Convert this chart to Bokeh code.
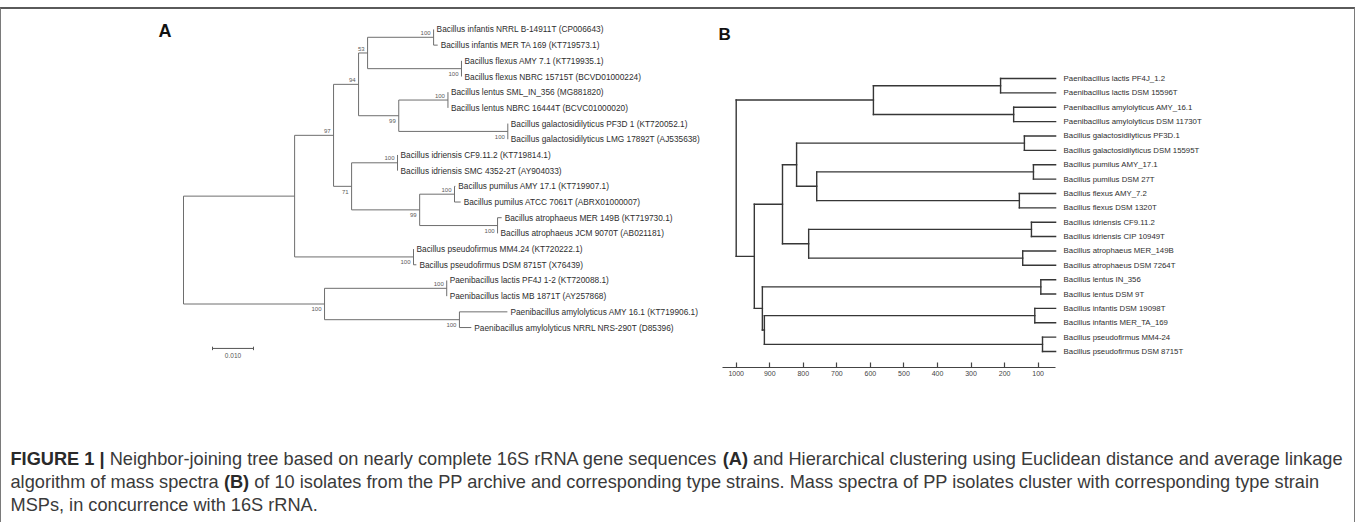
from bokeh.plotting import figure
from bokeh.models import Range1d, LinearAxis, FixedTicker
from bokeh.layouts import column, row
from bokeh.embed import file_html
from bokeh.resources import INLINE
from bokeh.core.properties import value

FONT = "Liberation Sans"

# ---------------- Panel A : neighbour-joining tree (16S rRNA) ----------------
A_LEAVES = [
    "Bacillus infantis NRRL B-14911T (CP006643)",
    "Bacillus infantis MER TA 169 (KT719573.1)",
    "Bacillus flexus AMY 7.1 (KT719935.1)",
    "Bacillus flexus NBRC 15715T (BCVD01000224)",
    "Bacillus lentus SML_IN_356 (MG881820)",
    "Bacillus lentus NBRC 16444T (BCVC01000020)",
    "Bacillus galactosidilyticus PF3D 1 (KT720052.1)",
    "Bacillus galactosidilyticus LMG 17892T (AJ535638)",
    "Bacillus idriensis CF9.11.2 (KT719814.1)",
    "Bacillus idriensis SMC 4352-2T (AY904033)",
    "Bacillus pumilus AMY 17.1 (KT719907.1)",
    "Bacillus pumilus ATCC 7061T (ABRX01000007)",
    "Bacillus atrophaeus MER 149B (KT719730.1)",
    "Bacillus atrophaeus JCM 9070T (AB021181)",
    "Bacillus pseudofirmus MM4.24 (KT720222.1)",
    "Bacillus pseudofirmus DSM 8715T (X76439)",
    "Paenibacillus lactis PF4J 1-2 (KT720088.1)",
    "Paenibacillus lactis MB 1871T (AY257868)",
    "Paenibacillus amylolyticus AMY 16.1 (KT719906.1)",
    "Paenibacillus amylolyticus NRRL NRS-290T (D85396)",
]
A_LEAF_LENGTH = [0.0, 0.0010, 0.0, 0.0, 0.0, 0.0, 0.0, 0.0, 0.0, 0.0,
                 0.0002, 0.0015, 0.0010, 0.0, 0.0, 0.0007, 0.0, 0.0, 0.0117, 0.0029]
A_NODE_NAMES = ["root", "bac", "n97", "n94", "n53", "inf", "fle", "n99a", "len", "gal",
                "n71", "idr", "n99b", "pum", "atr", "pse", "pae", "lac", "amy"]
A_NODE_CHILDREN = [["bac", "pae"], ["n97", "pse"], ["n94", "n71"], ["n53", "n99a"],
                   ["inf", "fle"], [0, 1], [2, 3], ["len", "gal"], [4, 5], [6, 7],
                   ["idr", "n99b"], [8, 9], ["pum", "atr"], [10, 11], [12, 13], [14, 15],
                   ["lac", "amy"], [16, 17], [18, 19]]
A_NODE_LENGTH = [0.0, 0.0271, 0.0095, 0.0061, 0.0022, 0.0161, 0.0229, 0.0098, 0.0120, 0.0266,
                 0.0044, 0.0112, 0.0166, 0.0085, 0.0190, 0.0290, 0.0344, 0.0298, 0.0329]
A_BOOTSTRAP = [None, None, 97, 94, 53, 100, 100, 99, 100, 100,
               71, 100, 99, 100, 100, 100, 100, 100, 100]
A_SCALE_BAR = 0.010

# ---------------- Panel B : hierarchical clustering of mass spectra ----------------
B_LEAVES = [
    "Paenibacillus lactis PF4J_1.2",
    "Paenibacillus lactis DSM 15596T",
    "Paenibacillus amylolyticus AMY_16.1",
    "Paenibacillus amylolyticus DSM 11730T",
    "Bacillus galactosidilyticus PF3D.1",
    "Bacillus galactosidilyticus DSM 15595T",
    "Bacillus pumilus AMY_17.1",
    "Bacillus pumilus DSM 27T",
    "Bacillus flexus AMY_7.2",
    "Bacillus flexus DSM 1320T",
    "Bacillus idriensis CF9.11.2",
    "Bacillus idriensis CIP 10949T",
    "Bacillus atrophaeus  MER_149B",
    "Bacillus atrophaeus DSM 7264T",
    "Bacillus lentus IN_356",
    "Bacillus lentus DSM 9T",
    "Bacillus infantis DSM 19098T",
    "Bacillus infantis MER_TA_169",
    "Bacillus pseudofirmus MM4-24",
    "Bacillus pseudofirmus DSM 8715T",
]
B_NODE_NAMES = ["root", "pae", "lac", "amy", "bac", "up", "gpf", "gal", "pf", "pum", "fle",
                "ia", "idr", "atr", "low", "len", "ip", "inf", "pse"]
B_NODE_CHILDREN = [["pae", "bac"], ["lac", "amy"], [0, 1], [2, 3], ["up", "low"], ["gpf", "ia"],
                   ["gal", "pf"], [4, 5], ["pum", "fle"], [6, 7], [8, 9], ["idr", "atr"],
                   [10, 11], [12, 13], ["len", "ip"], [14, 15], ["inf", "pse"], [16, 17], [18, 19]]
B_NODE_HEIGHT = [1000, 591, 212, 173, 946, 862, 820, 141, 760, 114, 156,
                 784, 120, 146, 922, 92, 916, 110, 87]
B_LEAF_HEIGHT = 48
B_TICKS = [1000, 900, 800, 700, 600, 500, 400, 300, 200, 100]

CAPTION = [
    [("FIGURE 1 |", True),
     ("Neighbor-joining tree based on nearly complete 16S rRNA gene sequences", False),
     ("(A)", True),
     ("and Hierarchical clustering using Euclidean distance and average linkage", False)],
    [("algorithm of mass spectra", False), ("(B)", True),
     ("of 10 isolates from the PP archive and corresponding type strains. Mass spectra of PP isolates cluster with corresponding type strain", False)],
    [("MSPs, in concurrence with 16S rRNA.", False)],
]

# ---------------- layout constants (page pixels) ----------------
TOP_GAP = 7
PAGE_X0, PAGE_Y0 = 1, TOP_GAP + 2
W_A, W_B, H_TOP, H_CAP = 714, 639, 413, 100

# Arial / Liberation Sans advance widths (units of 1/2048 em)
_w = {}
for ch in "0123456789_": _w[ch] = 1139
for ch in " !,./:;ftI": _w[ch] = 569
for ch in "()-r": _w[ch] = 682
for ch in "ijl": _w[ch] = 455
for ch in "abdeghnopqu": _w[ch] = 1139
for ch in "cksvxyzJ": _w[ch] = 1024
for ch in "ABEKPSVXY": _w[ch] = 1366
for ch in "CDHNRUw": _w[ch] = 1479
for ch in "FTZ": _w[ch] = 1251
for ch in "GOQ": _w[ch] = 1593
_w.update({"m": 1706, "|": 532, "L": 1139, "M": 1706, "W": 1933})
_wb = dict(_w)
_wb.update({"A": 1479, "B": 1479, "|": 573, "R": 1479, "U": 1479})


def tw(s, fs, bold=False):
    t = _wb if bold else _w
    return sum(t.get(c, 1139) for c in s) / 2048.0 * fs


def base_fig(w, h, xr, yr, **kw):
    p = figure(width=w, height=h, x_range=xr, y_range=yr, x_axis_type=None, y_axis_type=None,
               toolbar_location=None, output_backend="svg", **kw)
    p.outline_line_color = None
    p.background_fill_color = "white"
    p.border_fill_color = "white"
    return p


# ================= Panel A =================
A_ROOT_X, A_PX, A_LEAF0_Y, A_STEP = 183.0, 4100.0, 32.0, 18.1
ax0 = A_ROOT_X - PAGE_X0
ay0 = A_LEAF0_Y - PAGE_Y0
pa = base_fig(W_A, H_TOP, Range1d(-ax0 / A_PX, (W_A - ax0) / A_PX),
              Range1d((H_TOP - ay0) / A_STEP, -ay0 / A_STEP), min_border=0)


def axd(px):
    return (px - A_ROOT_X) / A_PX


def ayd(py):
    return (py - A_LEAF0_Y) / A_STEP


a_idx = {n: i for i, n in enumerate(A_NODE_NAMES)}
ax_pos, ay_pos = {}, {}


def place_a(node, x_parent):
    if isinstance(node, int):
        x = x_parent + A_LEAF_LENGTH[node]
        y = float(node)
    else:
        i = a_idx[node]
        x = x_parent + A_NODE_LENGTH[i]
        ch = A_NODE_CHILDREN[i]
        for c in ch:
            place_a(c, x)
        y = (ay_pos[ch[0]] + ay_pos[ch[-1]]) / 2.0
    ax_pos[node] = x
    ay_pos[node] = y


place_a("root", 0.0)

sx0, sy0, sx1, sy1 = [], [], [], []
for i, n in enumerate(A_NODE_NAMES):
    ch = A_NODE_CHILDREN[i]
    x = ax_pos[n]
    sx0.append(x); sy0.append(ay_pos[ch[0]]); sx1.append(x); sy1.append(ay_pos[ch[-1]])
    for c in ch:
        sx0.append(x); sy0.append(ay_pos[c]); sx1.append(ax_pos[c]); sy1.append(ay_pos[c])
pa.segment(x0=sx0, y0=sy0, x1=sx1, y1=sy1, line_color="#6e6e6e", line_width=1)

pa.text(x=[ax_pos[i] + 3 / A_PX for i in range(len(A_LEAVES))],
        y=[ay_pos[i] for i in range(len(A_LEAVES))], text=A_LEAVES,
        text_font=value(FONT), text_font_size="8.3px", text_color="#2e2e2e",
        text_align="left", text_baseline="middle")

A_BOOT_BELOW = {"fle", "n99a", "gal", "n71", "n99b", "atr", "pse", "pae", "amy"}
bx, by, bt = [], [], []
for i, n in enumerate(A_NODE_NAMES):
    if A_BOOTSTRAP[i] is None:
        continue
    bx.append(ax_pos[n] - 3 / A_PX)
    by.append(ay_pos[n] + (6 if n in A_BOOT_BELOW else -5) / A_STEP)
    bt.append(str(A_BOOTSTRAP[i]))
pa.text(x=bx, y=by, text=bt, text_font=value(FONT), text_font_size="6px",
        text_color="#5a5a5a", text_align="right", text_baseline="middle")

# scale bar
sb0 = axd(212)
sb1 = sb0 + A_SCALE_BAR
sby = ayd(400)
tk = 2 / A_STEP
pa.segment(x0=[sb0, sb0, sb1], y0=[sby, sby - tk, sby - tk], x1=[sb1, sb0, sb1], y1=[sby, sby + tk, sby + tk],
           line_color="#555555", line_width=1)
pa.text(x=[(sb0 + sb1) / 2], y=[ayd(408)], text=[f"{A_SCALE_BAR:.3f}"], text_font=value(FONT),
        text_font_size="6.5px", text_color="#555555", text_align="center", text_baseline="middle")

pa.text(x=[axd(158)], y=[ayd(34)], text=["A"], text_font=value(FONT), text_font_size="18px",
        text_font_style="bold", text_color="#111111", text_align="left", text_baseline="middle")

# ================= Panel B =================
B_X1000, B_PX, B_LEAF0_Y, B_STEP, B_AXIS_Y = 735.7, 0.3355, 78.0, 14.37, 367.0
bx0 = B_X1000 - (PAGE_X0 + W_A)
FB_H = B_AXIS_Y - PAGE_Y0
by0 = B_LEAF0_Y - PAGE_Y0
pb = base_fig(W_B, H_TOP, Range1d(1000 + bx0 / B_PX, 1000 - (W_B - bx0) / B_PX),
              Range1d((FB_H - by0) / B_STEP, -by0 / B_STEP),
              min_border_left=0, min_border_right=0, min_border_top=0,
              min_border_bottom=int(H_TOP - FB_H))


def bxd(px):
    return 1000 - (px - B_X1000) / B_PX


def byd(py):
    return (py - B_LEAF0_Y) / B_STEP


b_idx = {n: i for i, n in enumerate(B_NODE_NAMES)}
bx_pos, by_pos = {}, {}


def place_b(node):
    if isinstance(node, int):
        bx_pos[node] = B_LEAF_HEIGHT
        by_pos[node] = float(node)
        return
    i = b_idx[node]
    ch = B_NODE_CHILDREN[i]
    for c in ch:
        place_b(c)
    bx_pos[node] = B_NODE_HEIGHT[i]
    by_pos[node] = (by_pos[ch[0]] + by_pos[ch[-1]]) / 2.0


place_b("root")

qx0, qy0, qx1, qy1 = [], [], [], []
for i, n in enumerate(B_NODE_NAMES):
    ch = B_NODE_CHILDREN[i]
    x = bx_pos[n]
    qx0.append(x); qy0.append(by_pos[ch[0]]); qx1.append(x); qy1.append(by_pos[ch[-1]])
    for c in ch:
        qx0.append(x); qy0.append(by_pos[c]); qx1.append(bx_pos[c]); qy1.append(by_pos[c])
pb.segment(x0=qx0, y0=qy0, x1=qx1, y1=qy1, line_color="#363636", line_width=1.4, line_cap="square")

pb.text(x=[B_LEAF_HEIGHT - 8 / B_PX] * len(B_LEAVES), y=list(range(len(B_LEAVES))), text=B_LEAVES,
        text_font=value(FONT), text_font_size="7.8px", text_color="#2e2e2e",
        text_align="left", text_baseline="middle")

pb.text(x=[bxd(718)], y=[byd(34)], text=["B"], text_font=value(FONT), text_font_size="17px",
        text_font_style="bold", text_color="#111111", text_align="left", text_baseline="middle")

axis = LinearAxis(ticker=FixedTicker(ticks=B_TICKS), bounds=(B_LEAF_HEIGHT, bxd(722)))
axis.axis_line_color = "#444444"
axis.axis_line_width = 1.2
axis.major_tick_in = 5
axis.major_tick_out = 0
axis.major_tick_line_color = "#444444"
axis.major_tick_line_width = 1.2
axis.minor_tick_line_color = None
axis.major_label_text_font = FONT
axis.major_label_text_font_size = "7px"
axis.major_label_text_color = "#444444"
axis.major_label_standoff = 3
pb.add_layout(axis, "below")

# ================= Caption =================
W_ALL = W_A + W_B
CAP_TOP = PAGE_Y0 + H_TOP
pc = base_fig(W_ALL, H_CAP, Range1d(0, W_ALL), Range1d(H_CAP, 0), min_border=0)
CAP_X = 10 - PAGE_X0
CAP_Y = [458 - CAP_TOP, 481 - CAP_TOP, 504 - CAP_TOP]
CAP_FS = 18.2
nx, ny, nt, bxs, bys, bts = [], [], [], [], [], []
for li, segs in enumerate(CAPTION):
    x = CAP_X
    for s, bold in segs:
        if bold:
            bxs.append(x); bys.append(CAP_Y[li]); bts.append(s)
        else:
            nx.append(x); ny.append(CAP_Y[li]); nt.append(s)
        x += tw(s, CAP_FS, bold) + tw(" ", CAP_FS)
pc.text(x=nx, y=ny, text=nt, text_font=value(FONT), text_font_size=f"{CAP_FS}px",
        text_color="#3a3a3a", text_align="left", text_baseline="middle")
pc.text(x=bxs, y=bys, text=bts, text_font=value(FONT), text_font_size=f"{CAP_FS}px",
        text_font_style="bold", text_color="#2a2a2a", text_align="left", text_baseline="middle")

layout = column(row(pa, pb, spacing=0), pc, spacing=0,
                styles={"margin-top": f"{TOP_GAP}px",
                        "border-top": "2px solid #5a5a5a", "border-left": "1px solid #7a7a7a",
                        "border-right": "1px solid #7a7a7a"})

open("out.html", "w").write(file_html(layout, INLINE))
